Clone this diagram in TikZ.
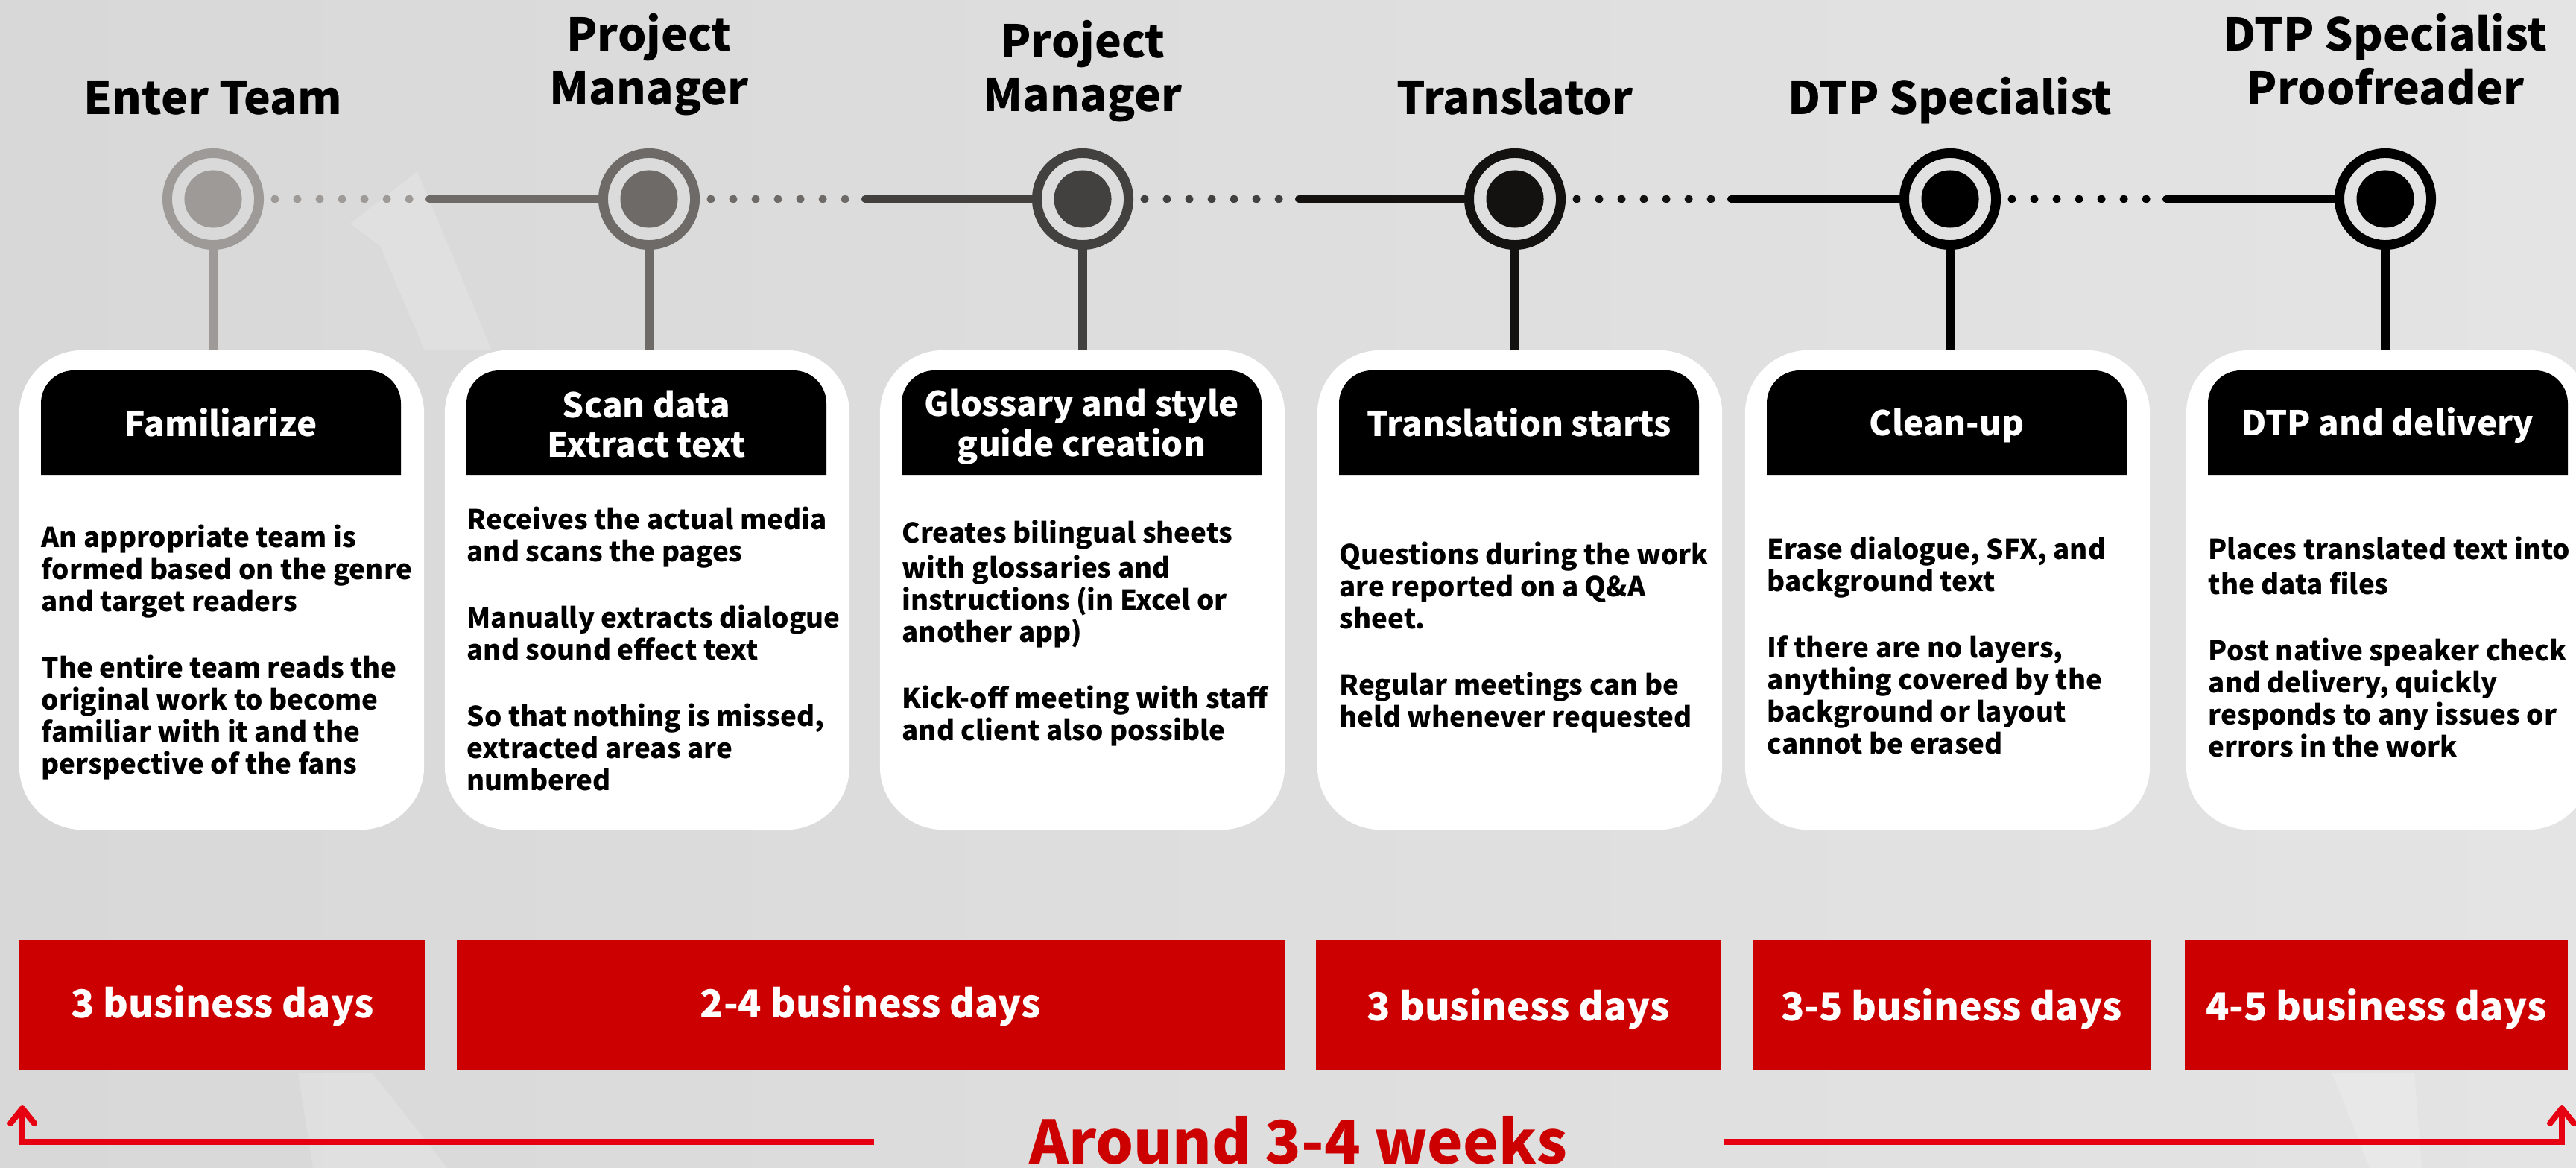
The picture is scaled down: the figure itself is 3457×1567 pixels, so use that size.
\documentclass[tikz,border=0pt]{standalone}
\usepackage{fontspec}
\setmainfont{Noto Sans CJK SC}
\usetikzlibrary{arrows.meta,calc}

\definecolor{bgL}{HTML}{D8D8D8}
\definecolor{bgR}{HTML}{E4E4E4}
\definecolor{stA}{HTML}{9E9A97}
\definecolor{stB}{HTML}{6E6A68}
\definecolor{stC}{HTML}{434140}
\definecolor{stD}{HTML}{141211}
\definecolor{stE}{HTML}{000000}
\definecolor{stF}{HTML}{000000}
\definecolor{dayred}{HTML}{CC0000}
\definecolor{arrowred}{HTML}{E60012}

\begin{document}
\begin{tikzpicture}[x=0.01cm,y=-0.01cm,
  ring/.style={circle,draw=#1,line width=0.13cm,minimum size=1.23cm,inner sep=0pt},
  core/.style={circle,fill=#1,minimum size=0.77cm,inner sep=0pt},
  stem/.style={draw=#1,line width=0.12cm},
  dotline/.style={draw=#1,line width=0.11cm,line cap=round,dash pattern=on 0pt off 0.3cm},
  solidline/.style={draw=#1,line width=0.1cm,line cap=round},
  role/.style={anchor=north,align=center,inner sep=0pt,text=black,
    font=\fontsize{17.2}{20.5}\selectfont\bfseries},
  card/.style={rectangle,fill=white,rounded corners=0.85cm,minimum width=5.43cm,
    minimum height=6.43cm,inner sep=0pt},
  tab/.style={fill=black},
  head/.style={align=center,inner sep=0pt,text=white,
    font=\fontsize{13}{15.3}\selectfont\bfseries},
  body/.style={anchor=north west,align=left,inner sep=0pt,text=black,
    font=\fontsize{10.45}{12.23}\selectfont\bfseries},
  daybox/.style={rectangle,fill=dayred,minimum height=1.75cm,inner sep=0pt,
    text=white,text height=0.34cm,text depth=0pt,
    font=\fontsize{14.7}{16}\selectfont\bfseries},
  total/.style={anchor=base,inner sep=0pt,text=dayred,
    font=\fontsize{22.8}{24}\selectfont\bfseries},
  span/.style={draw=arrowred,line width=0.08cm},
  spantip/.style={span,-{Straight Barb[length=0.2cm,width=0.32cm,round]}}
]
\useasboundingbox (0,0) rectangle (3457,1567);
\clip (0,0) rectangle (3457,1567);

% background
\shade[left color=bgL,right color=bgR] (0,0) rectangle (3457,1567);
\fill[white,opacity=0.18] (470,300) -- (560,230) -- (660,470) -- (570,470) -- (510,330) -- cycle;
\fill[white,opacity=0.18] (400,1440) -- (500,1440) -- (600,1567) -- (420,1567) -- cycle;
\fill[white,opacity=0.18] (3130,1440) -- (3240,1440) -- (3250,1567) -- (3180,1567) -- cycle;

% role titles
\node[role] (n1) at (286,102.6) {\strut Enter Team};
\node[role] (n2) at (871,17.6) {\strut Project\\Manager};
\node[role] (n3) at (1453,26.6) {\strut Project\\Manager};
\node[role] (n4) at (2033,102.6) {\strut Translator};
\node[role] (n5) at (2617,102.6) {\strut DTP Specialist};
\node[role] (n6) at (3201,17.6) {\strut DTP Specialist\\Proofreader};

% milestones on the timeline
\foreach \i/\x/\c in {1/286/stA,2/871/stB,3/1453/stC,4/2033/stD,5/2617/stE,6/3201/stF}{
  \node[ring=\c] (c\i) at (\x,267) {};
  \node[core=\c] (d\i) at (\x,267) {};
}

% timeline links: dotted run, then solid run
\foreach \i/\j/\a/\b in {1/2/stA/stB,2/3/stB/stC,3/4/stC/stD,4/5/stD/stE,5/6/stE/stF}{
  \draw[dotline=\a] ($(c\i.center)+(83,0)$) -- ($(c\i.center)+(264,0)$);
  \draw[solidline=\b] ($(c\i.center)+(290,0)$) -- (c\j.west);
}

% cards
\foreach \i/\L in {1/26,2/597,3/1181,4/1768,5/2342,6/2934}{
  \node[card] (k\i) at (\L+271.5,791.5) {};
  \fill[tab] (\L+29,637) [rounded corners=0.44cm] -- (\L+29,497) -- (\L+512,497)
    [sharp corners] -- (\L+512,637) -- cycle;
}

% stems from milestones to cards
\foreach \i/\c in {1/stA,2/stB,3/stC,4/stD,5/stE,6/stF}{
  \draw[stem=\c] (c\i.south) -- (c\i.south |- k\i.north);
}

% card headings
\node[head] (h1) at (296.5,567) {Familiarize};
\node[head] (h2) at (867.5,569) {Scan data\\Extract text};
\node[head] (h3) at (1451.5,573) {Glossary and style\\guide creation};
\node[head] (h4) at (2038.5,567) {Translation starts};
\node[head] (h5) at (2612.5,571) {Clean-up};
\node[head] (h6) at (3204.5,571) {DTP and delivery};

% card texts
\node[body] (b1) at (55,703) {\strut An appropriate team is\\formed based on the genre\\and target readers\\[13.1pt]
  The entire team reads the\\original work to become\\familiar with it and the\\perspective of the fans};
\node[body] (b2) at (626,679) {\strut Receives the actual media\\and scans the pages\\[13.1pt]
  Manually extracts dialogue\\and sound effect text\\[13.1pt]
  So that nothing is missed,\\extracted areas are\\numbered};
\node[body] (b3) at (1210,697) {\strut Creates bilingual sheets\\with glossaries and\\instructions (in Excel or\\another app)\\[13.1pt]
  Kick-off meeting with staff\\and client also possible};
\node[body] (b4) at (1797,726) {\strut Questions during the work\\are reported on a Q\&A\\sheet.\\[13.1pt]
  Regular meetings can be\\held whenever requested};
\node[body] (b5) at (2371,719) {\strut Erase dialogue, SFX, and\\background text\\[13.1pt]
  If there are no layers,\\anything covered by the\\background or layout\\cannot be erased};
\node[body] (b6) at (2963,719) {\strut Places translated text into\\the data files\\[13.1pt]
  Post native speaker check\\and delivery, quickly\\responds to any issues or\\errors in the work};

% durations
\node[daybox,minimum width=5.45cm] (r1) at (298.5,1348.5) {3 business days};
\node[daybox,minimum width=11.11cm] (r2) at (1168.5,1348.5) {2-4 business days};
\node[daybox,minimum width=5.44cm,text height=0.42cm] (r3) at (2038,1348.5) {3 business days};
\node[daybox,minimum width=5.34cm,text height=0.42cm] (r4) at (2619,1348.5) {3-5 business days};
\node[daybox,minimum width=5.14cm,text height=0.42cm] (r5) at (3189,1348.5) {4-5 business days};

% overall span
\node[total] (wk) at (1742,1561) {Around 3-4 weeks};
\coordinate (ls) at (1173,1532);
\coordinate (lc) at (30,1532);
\coordinate (lt) at (30,1483);
\coordinate (rs) at (2313,1532);
\coordinate (rc) at (3438,1532);
\coordinate (rt) at (3438,1483);
\draw[spantip] (ls) -- (lc) -- (lt);
\draw[spantip] (rs) -- (rc) -- (rt);
\end{tikzpicture}
\end{document}
